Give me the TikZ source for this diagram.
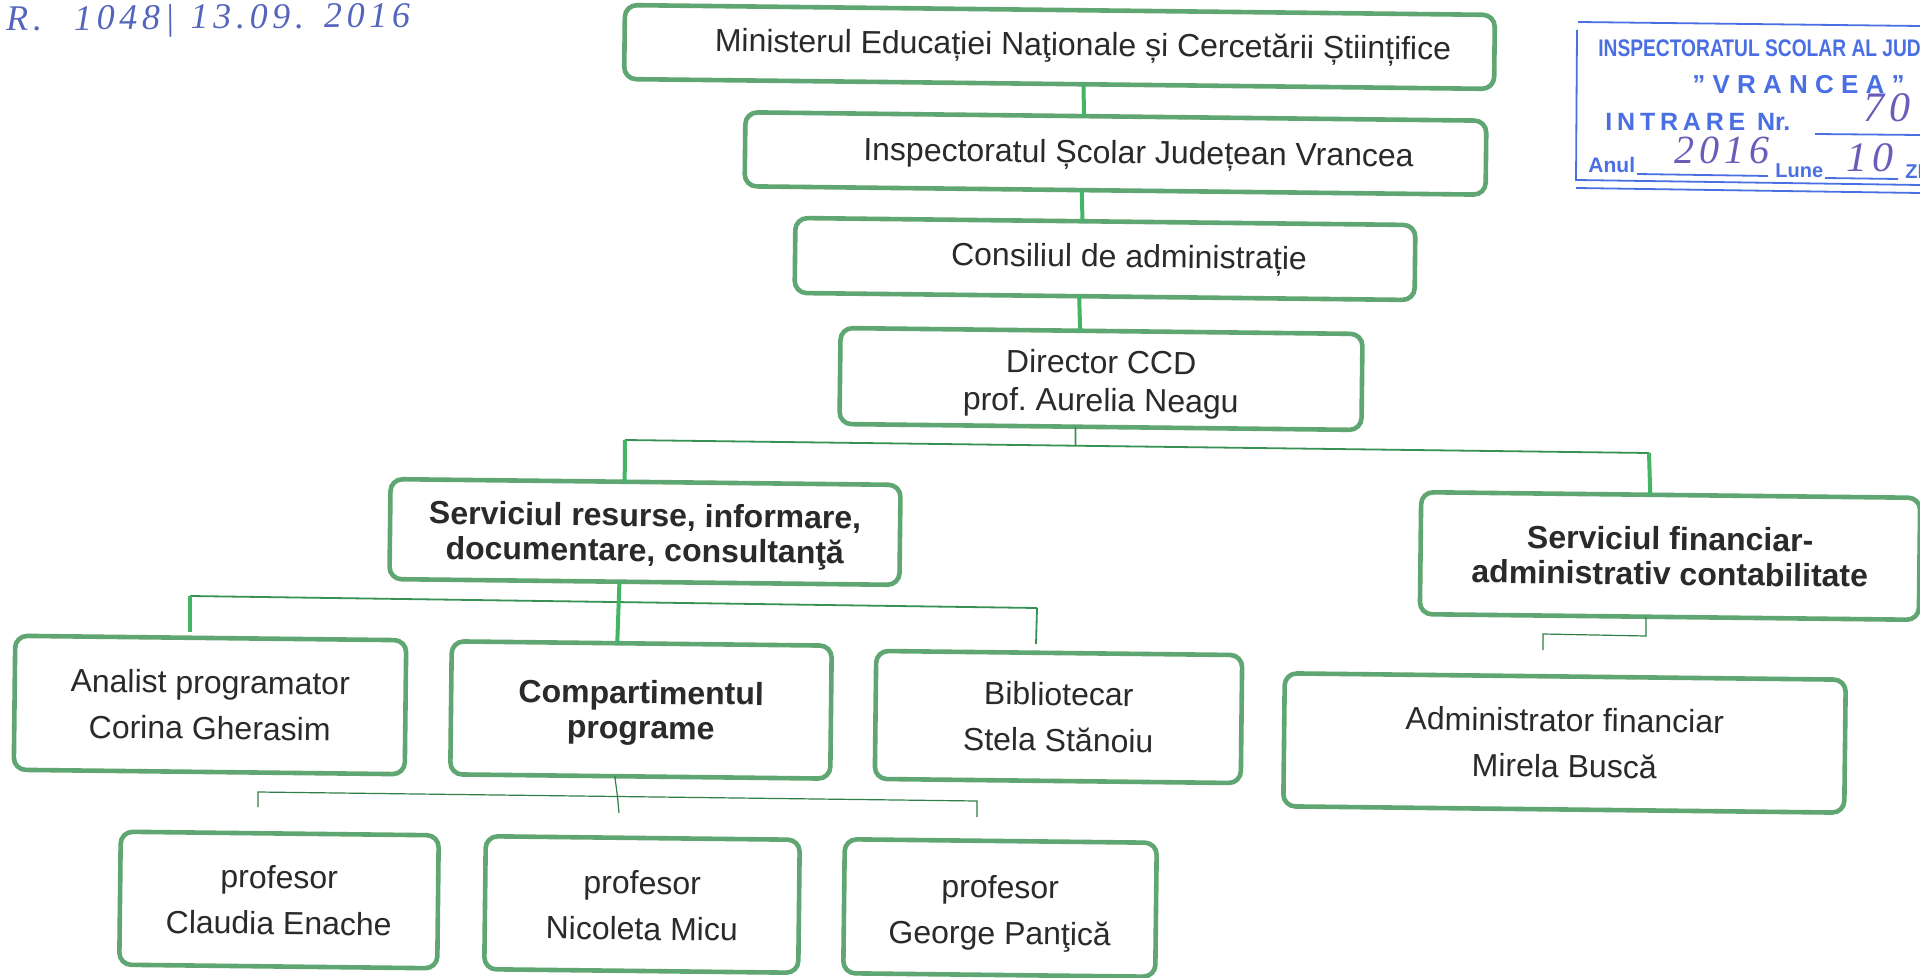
\documentclass[tikz,border=0pt]{standalone}
\usepackage{fontspec}
\setmainfont{Liberation Sans}
\newfontfamily\handfont[LetterSpace=13]{Liberation Serif}
\usetikzlibrary{calc}
\frenchspacing
\definecolor{boxgreen}{HTML}{5FA672}
\definecolor{linegreen}{HTML}{43B566}
\definecolor{inktext}{HTML}{2A2A2A}
\definecolor{stampblue}{HTML}{4A6FE3}
\definecolor{handblue}{HTML}{5565BC}
\definecolor{handviolet}{HTML}{6A5CB8}
\newcommand{\lowerby}[1]{\rule{0pt}{\dimexpr 11.7pt+2\dimexpr #1\relax\relax}}
\tikzset{
  orgbox/.style n args={3}{draw=boxgreen, line width=2.3pt, rounded corners=6pt, fill=white,
    rotate=-0.65, outer sep=0pt, inner sep=0pt, text=inktext, align=center,
    minimum width=#1pt, minimum height=#2pt,
    font=\fontsize{16}{#3}\selectfont},
  stem/.style={draw=linegreen, line width=2pt},
  bus/.style={draw=linegreen!80!black, line width=0.9pt},
  thin bus/.style={draw=linegreen!70!black, line width=0.6pt},
  stampline/.style={draw=stampblue, line width=0.9pt},
  stamptext/.style={text=stampblue, inner sep=0pt, anchor=west},
  handtext/.style={inner sep=0pt, anchor=west},
}
\begin{document}
\begin{tikzpicture}[x=0.5pt,y=-0.5pt]
\useasboundingbox (0,0) rectangle (1920,978);
\fill[white] (0,0) rectangle (1920,978);
\begin{scope}
\clip (0,0) rectangle (1920,978);

% boxes
\node[orgbox={435}{37}{17}] (min) at (1059.5,47) {\hspace*{23.5pt}Ministerul Educației Naţionale și Cercetării Științifice};
\node[orgbox={370.5}{37}{17}] (insp) at (1115.5,153.5) {\lowerby{0.75pt}\hspace*{23pt}Inspectoratul Școlar Județean Vrancea};
\node[orgbox={310}{37.5}{17}] (cons) at (1105,259) {\hspace*{24pt}Consiliul de administrație};
\node[orgbox={261}{48}{19}] (dir) at (1101,379) {\lowerby{2.5pt}Director CCD\\prof. Aurelia Neagu};
\node[orgbox={255}{50}{17.5}] (sres) at (645,532) {\lowerby{1.75pt}\bfseries Serviciul resurse, informare,\\\bfseries documentare, consultanţă};
\node[orgbox={249.5}{61}{17.5}] (sfin) at (1670,556) {\bfseries Serviciul financiar-\\\bfseries administrativ contabilitate};
\node[orgbox={195.5}{67}{23}] (anal) at (210,705) {Analist programator\\Corina Gherasim};
\node[orgbox={190}{66.5}{17.5}] (comp) at (641,710) {\lowerby{1.5pt}\bfseries Compartimentul\\\bfseries programe};
\node[orgbox={183}{64}{23}] (bibl) at (1058.5,717) {Bibliotecar\\Stela Stănoiu};
\node[orgbox={280.5}{66.5}{23}] (adm) at (1564.5,743) {Administrator financiar\\Mirela Buscă};
\node[orgbox={159}{66.5}{23}] (cla) at (279,900) {profesor\\Claudia Enache};
\node[orgbox={157}{66.5}{23}] (nic) at (642,904.5) {\lowerby{0.5pt}profesor\\Nicoleta Micu};
\node[orgbox={156}{67}{23}] (geo) at (1000,908) {\lowerby{2.5pt}profesor\\George Panţică};

% upper chain
\draw[stem] ($(min.south west)!.528!(min.south east)$) -- ($(insp.north west)!.457!(insp.north east)$);
\draw[stem] ($(insp.south west)!.455!(insp.south east)$) -- ($(cons.north west)!.463!(cons.north east)$);
\draw[stem] ($(cons.south west)!.459!(cons.south east)$) -- ($(dir.north west)!.459!(dir.north east)$);

% director to services
\coordinate (busAl) at (625,440);
\coordinate (busAr) at (1649,453);
\draw[bus] ($(dir.south west)!.452!(dir.south east)$) -- ($(busAl)!.44!(busAr)$);
\draw[bus] (busAl) -- (busAr);
\draw[stem] (busAl) -- ($(sres.north west)!.459!(sres.north east)$);
\draw[stem] (busAr) -- ($(sfin.north west)!.459!(sfin.north east)$);

% service to its compartments
\coordinate (busBl) at (190,596);
\coordinate (busBr) at (1037,608);
\coordinate (endBr) at (1036,644);
\coordinate (endBl) at (190,632);
\draw[bus] (busBl) -- (busBr);
\draw[stem] ($(sres.south west)!.451!(sres.south east)$) -- ($(comp.north west)!.4355!(comp.north east)$);
\draw[stem] (busBl) -- (endBl);
\draw[bus] (busBr) -- (endBr);

% compartment to teachers
\coordinate (busCl) at (258,792);
\coordinate (busCr) at (977,801);
\coordinate (endCl) at (258,807);
\coordinate (endCm) at (619,813);
\coordinate (endCr) at (977,817);
\draw[thin bus] ($(comp.south west)!.433!(comp.south east)$) -- ($(busCl)!.5!(busCr)$) -- (endCm);
\draw[thin bus] (endCl) -- (busCl) -- (busCr) -- (endCr);

% financial service to administrator
\coordinate (busDr) at (1646,636);
\coordinate (busDl) at (1543,634);
\coordinate (endD) at (1543,650);
\draw[thin bus] ($(sfin.south west)!.453!(sfin.south east)$) -- (busDr) -- (busDl) -- (endD);

% handwriting top left
\node[handtext, text=handblue, rotate=0.5, font=\handfont\itshape\fontsize{18}{21}\selectfont] (note) at (6,22) {R.\hspace{16pt}1048|\hspace{8pt}13.09.\hspace{10pt}2016};

% stamp
\draw[stampline] (1578,22) -- (1920,26);
\draw[stampline] (1577,30) -- (1576,180) -- (1920,185);
\draw[stampline] (1576,188) -- (1920,193);
\draw[stampline] (1815,134) -- (1920,135);
\draw[stampline] (1637,174) -- (1768,176);
\draw[stampline] (1825,178) -- (1898,179);
\node[stamptext, xscale=.8, font=\bfseries\fontsize{12}{14}\selectfont] (st1) at (1598,48) {INSPECTORATUL SCOLAR AL JUD};
\node[stamptext, font=\bfseries\fontsize{13}{15}\selectfont] (st2) at (1692,85) {\char"22\hspace{3.6pt}V\hspace{3.6pt}R\hspace{3.6pt}A\hspace{3.6pt}N\hspace{3.6pt}C\hspace{3.6pt}E\hspace{3.6pt}A\hspace{3.6pt}\char"22};
\node[stamptext, font=\bfseries\fontsize{12.5}{14}\selectfont] (st3) at (1605,122) {I\hspace{2.4pt}N\hspace{2.4pt}T\hspace{2.4pt}R\hspace{2.4pt}A\hspace{2.4pt}R\hspace{2.4pt}E\hspace{2.4pt} Nr.};
\node[stamptext, font=\bfseries\fontsize{10.5}{12}\selectfont] (st4) at (1588,165) {Anul};
\node[stamptext, font=\bfseries\fontsize{10}{12}\selectfont] (st5) at (1775,171) {Lune};
\node[stamptext, font=\bfseries\fontsize{10}{12}\selectfont] (st6) at (1905,172) {ZI};
\node[handtext, text=handviolet, font=\handfont\itshape\fontsize{21}{24}\selectfont] (h70) at (1863,108) {70};
\node[handtext, text=handviolet, font=\handfont\itshape\fontsize{20}{24}\selectfont] (h2016) at (1674,150) {2016};
\node[handtext, text=handviolet, font=\handfont\itshape\fontsize{21}{24}\selectfont] (h10) at (1846,158) {10};
\end{scope}
\end{tikzpicture}
\end{document}
